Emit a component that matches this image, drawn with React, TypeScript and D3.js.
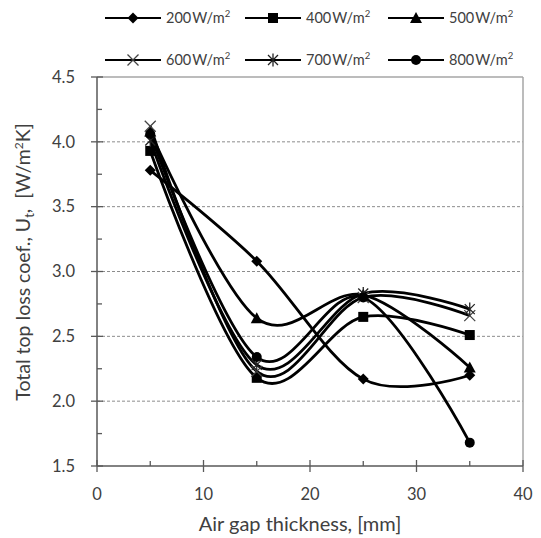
import React from "react";
import * as d3 from "d3";

const xValues = [5, 15, 25, 35];
const seriesNames = ["200W/m", "400W/m", "500W/m", "600W/m", "700W/m", "800W/m"];
const markerTypes = ["diamond", "square", "triangle", "x", "star", "circle"];
const s200 = [3.78, 3.08, 2.17, 2.2];
const s400 = [3.93, 2.18, 2.65, 2.51];
const s500 = [4.08, 2.64, 2.82, 2.26];
const s600 = [4.12, 2.23, 2.8, 2.66];
const s700 = [4.01, 2.28, 2.83, 2.71];
const s800 = [4.06, 2.34, 2.8, 1.68];
const seriesValues = [s200, s400, s500, s600, s700, s800];
const xTicks = [0, 10, 20, 30, 40];
const yTicks = [1.5, 2.0, 2.5, 3.0, 3.5, 4.0, 4.5];

const W = 541, H = 538;
const L = 97, R = 523, T = 77, B = 466;
const FONT = "Lato, 'Open Sans', sans-serif";

function Marker({ type, x, y }: { type: string; x: number; y: number }) {
  switch (type) {
    case "diamond":
      return <path d={`M${x},${y - 5.5}L${x + 5.5},${y}L${x},${y + 5.5}L${x - 5.5},${y}Z`} fill="#000" />;
    case "square":
      return <rect x={x - 5} y={y - 5} width={10} height={10} fill="#000" />;
    case "triangle":
      return <path d={`M${x},${y - 6}L${x + 6},${y + 5}L${x - 6},${y + 5}Z`} fill="#000" />;
    case "x":
      return (
        <path d={`M${x - 5.5},${y - 5.5}L${x + 5.5},${y + 5.5}M${x - 5.5},${y + 5.5}L${x + 5.5},${y - 5.5}`} stroke="#444" strokeWidth={1.3} fill="none" />
      );
    case "star":
      return (
        <path
          d={`M${x - 5},${y - 5}L${x + 5},${y + 5}M${x - 5},${y + 5}L${x + 5},${y - 5}M${x},${y - 6.5}L${x},${y + 6.5}`}
          stroke="#222"
          strokeWidth={1.3}
          fill="none"
        />
      );
    default:
      return <circle cx={x} cy={y} r={5} fill="#000" />;
  }
}

export default function App() {
  const xs = d3.scaleLinear().domain([0, 40]).range([L, R]);
  const ys = d3.scaleLinear().domain([1.5, 4.5]).range([B, T]);
  const line = d3
    .line<number>()
    .x((_, i) => xs(xValues[i]))
    .y((d) => ys(d))
    .curve(d3.curveCardinal.tension(0));

  const minorY = d3.range(1.75, 4.5, 0.5);
  const minorX = [5, 15, 25, 35];
  const gridY = [2.0, 2.5, 3.0, 3.5, 4.0];

  const legendPos = [
    { x: 105, y: 18 },
    { x: 245, y: 18 },
    { x: 388, y: 18 },
    { x: 105, y: 60 },
    { x: 245, y: 60 },
    { x: 388, y: 60 },
  ];

  return (
    <svg width={W} height={H} style={{ position: "absolute", left: 0, top: 0, background: "#fff" }} fontFamily={FONT}>
      <rect x={0} y={0} width={W} height={H} fill="#fff" />
      {gridY.map((v) => (
        <line key={v} x1={L} x2={R} y1={ys(v)} y2={ys(v)} stroke="#8c8c8c" strokeWidth={1} strokeDasharray="3,2" />
      ))}
      <line x1={L} x2={R} y1={T} y2={T} stroke="#a6a6a6" strokeWidth={1.5} />
      <line x1={R} x2={R} y1={T} y2={B} stroke="#a6a6a6" strokeWidth={1.5} />
      <line x1={L} x2={L} y1={T} y2={B} stroke="#595959" strokeWidth={1.5} />
      <line x1={L} x2={R} y1={B} y2={B} stroke="#595959" strokeWidth={1.5} />
      {yTicks.map((v) => (
        <g key={v}>
          <line x1={L - 6} x2={L + 6} y1={ys(v)} y2={ys(v)} stroke="#595959" strokeWidth={1.3} />
          <text x={L - 22} y={ys(v)} dy="0.35em" textAnchor="end" fontSize={16.5} fill="#404040">
            {v.toFixed(1)}
          </text>
        </g>
      ))}
      {minorY.map((v) => (
        <line key={v} x1={L} x2={L + 5} y1={ys(v)} y2={ys(v)} stroke="#595959" strokeWidth={1.3} />
      ))}
      {xTicks.map((v) => (
        <g key={v}>
          <line x1={xs(v)} x2={xs(v)} y1={B - 6} y2={B + 6} stroke="#595959" strokeWidth={1.3} />
          <text x={xs(v)} y={B + 34} textAnchor="middle" fontSize={16.5} fill="#404040">
            {v}
          </text>
        </g>
      ))}
      {minorX.map((v) => (
        <line key={v} x1={xs(v)} x2={xs(v)} y1={B - 5} y2={B} stroke="#595959" strokeWidth={1.3} />
      ))}
      <text x={300} y={531} textAnchor="middle" fontSize={20} fill="#404040">
        Air gap thickness, [mm]
      </text>
      <text
        transform={`translate(30,${262}) rotate(-90)`}
        textAnchor="middle"
        fontSize={19.5}
        fill="#404040"
        style={{ whiteSpace: "pre" }}
      >
        Total top loss coef., U<tspan fontSize={13} dy={4}>t</tspan>
        <tspan dy={-4}>,  [W/m</tspan>
        <tspan fontSize={12} dy={-7}>2</tspan>
        <tspan dy={7}>K]</tspan>
      </text>
      {seriesValues.map((vals, si) => (
        <path key={si} d={line(vals) || ""} fill="none" stroke="#000" strokeWidth={2.8} />
      ))}
      {seriesValues.map((vals, si) => (
        <g key={"m" + si}>
          {vals.map((v, i) => (
            <Marker key={i} type={markerTypes[si]} x={xs(xValues[i])} y={ys(v)} />
          ))}
        </g>
      ))}
      {seriesNames.map((name, si) => {
        const p = legendPos[si];
        return (
          <g key={name}>
            <line x1={p.x} x2={p.x + 56} y1={p.y} y2={p.y} stroke="#000" strokeWidth={2} />
            <Marker type={markerTypes[si]} x={p.x + 28} y={p.y} />
            <text x={p.x + 61} y={p.y} dy="0.35em" fontSize={14.5} fill="#404040">
              {name.slice(0, 3)}
              <tspan dx={1}>{name.slice(3)}</tspan>
              <tspan fontSize={9.5} dy={-6}>2</tspan>
            </text>
          </g>
        );
      })}
    </svg>
  );
}
